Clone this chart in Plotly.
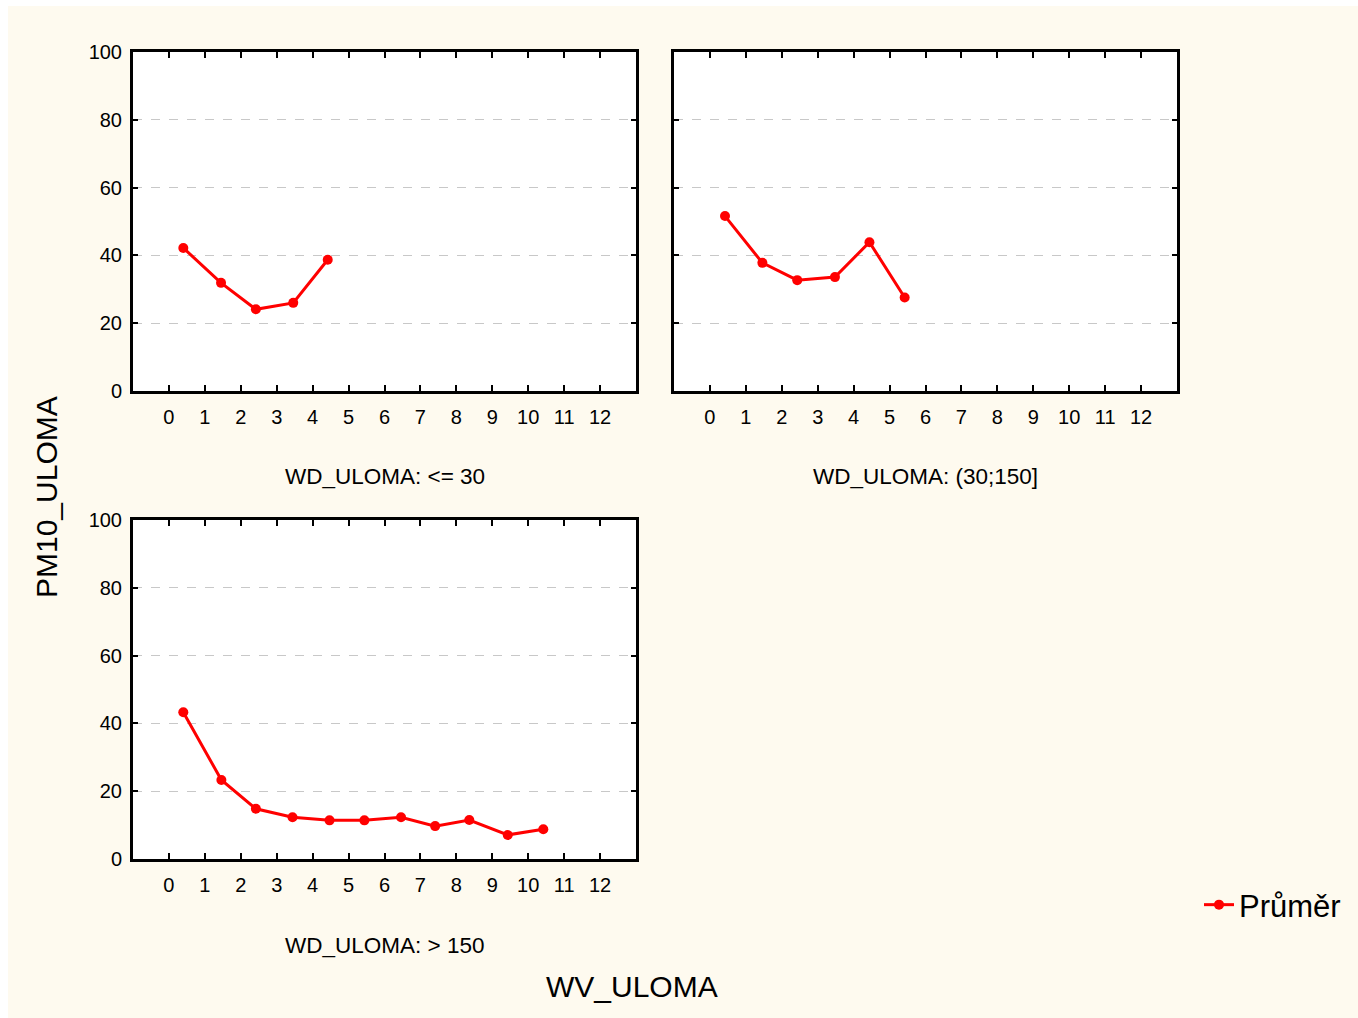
import plotly.graph_objects as go

# Data
x_p1 = [0.40, 1.45, 2.42, 3.46, 4.42]
y_p1 = [42.2, 31.9, 24.1, 26.0, 38.7]
x_p2 = [0.42, 1.46, 2.43, 3.48, 4.44, 5.42]
y_p2 = [51.6, 37.8, 32.7, 33.6, 43.9, 27.6]
x_p3 = [0.40, 1.46, 2.42, 3.44, 4.47, 5.44, 6.46, 7.41, 8.36, 9.43, 10.42]
y_p3 = [43.3, 23.3, 14.8, 12.3, 11.4, 11.4, 12.3, 9.7, 11.5, 7.1, 8.8]
x_ticks = list(range(0, 13))
y_ticks = [0, 20, 40, 60, 80, 100]
panel_titles = ["WD_ULOMA: <= 30", "WD_ULOMA: (30;150]", "WD_ULOMA: > 150"]
series_name = "Průměr"

W, H = 1358, 1018
FONT = "Liberation Sans, Arial, sans-serif"
RED = "#FF0000"
CREAM = "rgb(254,250,239)"

def px(x):
    return x / W

def py(y):
    return 1 - y / H

fig = go.Figure()
for i, (xs, ys) in enumerate([(x_p1, y_p1), (x_p2, y_p2), (x_p3, y_p3)]):
    suffix = "" if i == 0 else str(i + 1)
    fig.add_trace(go.Scatter(
        x=xs, y=ys, mode="lines+markers", name=series_name,
        line=dict(color=RED, width=3),
        marker=dict(color=RED, size=10),
        xaxis="x" + suffix, yaxis="y" + suffix,
        legendgroup="m", showlegend=(i == 0),
        cliponaxis=False,
    ))

panels = [
    (133, 636, 52, 391),
    (674, 1177, 52, 391),
    (133, 636, 520, 859),
]

layout = dict(
    width=W, height=H, autosize=False,
    margin=dict(l=0, r=0, t=0, b=0, pad=0, autoexpand=False),
    paper_bgcolor=CREAM,
    plot_bgcolor="white",
    font=dict(family=FONT, color="black"),
    showlegend=True,
    legend=dict(x=px(1199), y=py(905), xanchor="left", yanchor="middle",
                bgcolor="rgba(0,0,0,0)", font=dict(size=31, family=FONT),
                itemwidth=30),
)

annotations = []
for i, (l, r, t, b) in enumerate(panels):
    suffix = "" if i == 0 else str(i + 1)
    xa = dict(
        domain=[px(l), px(r)], range=[-1, 13], anchor="y" + suffix,
        tickmode="array", tickvals=x_ticks, ticktext=[str(v) for v in x_ticks],
        ticks="inside", ticklen=6, tickwidth=2, tickcolor="black",
        showline=True, linewidth=3, linecolor="black", mirror="allticks",
        showgrid=False, zeroline=False, automargin=False,
        tickfont=dict(size=20, family=FONT, color="black"),
        ticklabelstandoff=6,
    )
    ya = dict(
        domain=[py(b), py(t)], range=[0, 100], anchor="x" + suffix,
        tickmode="array", tickvals=y_ticks, ticktext=[str(v) for v in y_ticks],
        ticks="inside", ticklen=5, tickwidth=2, tickcolor="black",
        showline=True, linewidth=3, linecolor="black", mirror="allticks",
        showgrid=True, gridcolor="#C8C8C8", gridwidth=1, griddash="dash",
        zeroline=False, automargin=False,
        showticklabels=(i != 1),
        tickfont=dict(size=20, family=FONT, color="black"),
        ticklabelstandoff=4,
    )
    layout["xaxis" + suffix] = xa
    layout["yaxis" + suffix] = ya
    annotations.append(dict(
        text=panel_titles[i], x=px((l + r) / 2), y=py(b + 86),
        xref="paper", yref="paper", xanchor="center", yanchor="middle",
        showarrow=False, font=dict(size=22.5, family=FONT, color="black"),
    ))

annotations.append(dict(text="WV_ULOMA", x=px(632), y=py(986), xref="paper", yref="paper",
                        xanchor="center", yanchor="middle", showarrow=False,
                        font=dict(size=30, family=FONT, color="black")))
annotations.append(dict(text="PM10_ULOMA", x=px(47), y=py(497), xref="paper", yref="paper",
                        xanchor="center", yanchor="middle", showarrow=False, textangle=-90,
                        font=dict(size=30, family=FONT, color="black")))
layout["annotations"] = annotations
layout["shapes"] = [
    dict(type="rect", xref="paper", yref="paper", x0=0, x1=px(8), y0=0, y1=1,
         fillcolor="white", line=dict(width=0), layer="below"),
    dict(type="rect", xref="paper", yref="paper", x0=0, x1=1, y0=py(6), y1=1,
         fillcolor="white", line=dict(width=0), layer="below"),
]

fig.update_layout(**layout)
fig.write_html("out.html")
